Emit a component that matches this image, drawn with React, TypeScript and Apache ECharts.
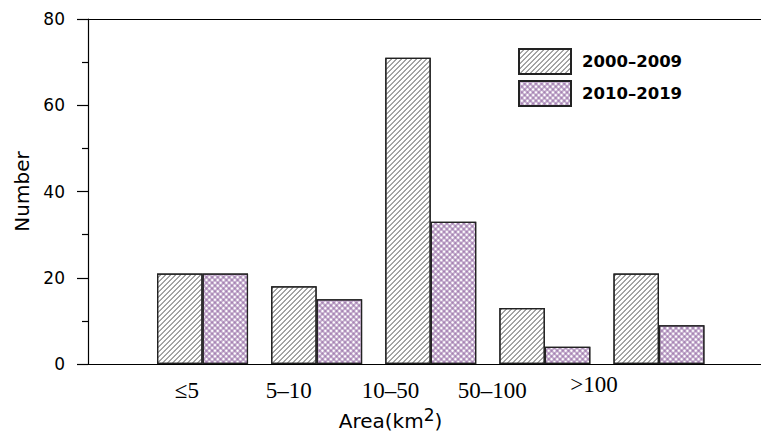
import React, { useEffect, useRef } from 'react';
import * as echarts from 'echarts';

const categories = ['≤5', '5–10', '10–50', '50–100', '>100'];
const series2000 = [21, 18, 71, 13, 21];
const series2010 = [21, 15, 33, 4, 9];
const seriesNames = ['2000–2009', '2010–2019'];
const yMin = 0;
const yMax = 80;
const yInterval = 20;

const SANS = 'DejaVu Sans';
const SERIF = 'Liberation Serif';

export default function App() {
  const ref = useRef<HTMLDivElement>(null);
  useEffect(() => {
    const chart = echarts.init(ref.current!, null, { renderer: 'svg' });
    const hatch = {
      color: '#444',
      symbol: 'path://M0,5L5,0L5,1L1,5Z M0,0L1,0L0,1Z',
      symbolSize: 1,
      symbolKeepAspect: false,
      dashArrayX: [5, 0],
      dashArrayY: [5, 0],
      rotation: 0,
    };
    const cross = {
      color: '#8a5c9c',
      symbol: 'path://M0,1.5H4V2.5H0Z M1.5,0H2.5V4H1.5Z',
      symbolSize: 1,
      dashArrayX: [4, 0],
      dashArrayY: [4, 0],
      rotation: Math.PI / 4,
    };
    const option: any = {
      animation: false,
      backgroundColor: '#fff',
      legend: {
        left: 518,
        top: 48,
        orient: 'vertical',
        itemWidth: 52,
        itemHeight: 25,
        itemGap: 5,
        padding: 0,
        icon: 'rect',
        data: seriesNames,
        textStyle: {
          fontFamily: SANS,
          fontWeight: 'bold',
          fontSize: 16.5,
          color: '#000',
          padding: [0, 0, 0, 6],
        },
      },
      grid: [
        { left: 145.5, right: 45, top: 19, bottom: 73 },
        { left: 88, right: 0, top: 19, bottom: 73 },
        { left: 136, right: 116, top: 19, bottom: 73 },
      ],
      xAxis: [
        {
          type: 'category',
          gridIndex: 0,
          data: categories,
          axisLine: { show: false },
          axisTick: { show: false },
          axisLabel: { show: false },
          splitLine: { show: false },
        },
        {
          type: 'value',
          gridIndex: 1,
          min: 0,
          max: 1,
          position: 'bottom',
          axisLine: { show: true, lineStyle: { color: '#000', width: 1.2 } },
          axisTick: { show: false },
          axisLabel: { show: false },
          splitLine: { show: false },
        },
        {
          type: 'value',
          gridIndex: 1,
          min: 0,
          max: 1,
          position: 'top',
          axisLine: { show: true, lineStyle: { color: '#000', width: 1.2 } },
          axisTick: { show: false },
          axisLabel: { show: false },
          splitLine: { show: false },
        },
        {
          type: 'category',
          gridIndex: 2,
          data: categories,
          axisLine: { show: false },
          axisTick: { show: false },
          splitLine: { show: false },
          axisLabel: {
            interval: 0,
            fontFamily: SERIF,
            fontSize: 23,
            color: '#000',
            margin: 15,
            formatter: (v: string) => (v === '>100' ? `{hi|${v}}` : v),
            rich: { hi: { fontFamily: SERIF, fontSize: 23, color: '#000', lineHeight: 11 } },
          },
          name: '{a|Area(km}{s|2}{a|)}',
          nameLocation: 'middle',
          nameGap: 30,
          nameTextStyle: {
            rich: {
              a: { fontFamily: SANS, fontSize: 20, color: '#000', lineHeight: 24, verticalAlign: 'bottom' },
              s: { fontFamily: SANS, fontSize: 17, color: '#000', lineHeight: 15, verticalAlign: 'top' },
            },
          },
        },
      ],
      yAxis: [
        {
          type: 'value',
          gridIndex: 0,
          min: yMin,
          max: yMax,
          interval: yInterval,
          show: false,
        },
        {
          type: 'value',
          gridIndex: 1,
          min: yMin,
          max: yMax,
          interval: yInterval,
          axisLine: { show: true, lineStyle: { color: '#000', width: 1.2 } },
          axisTick: { show: true, inside: false, length: 11, lineStyle: { color: '#000', width: 1.2 } },
          minorTick: { show: true, splitNumber: 2, length: 6, lineStyle: { color: '#000', width: 1.2 } },
          splitLine: { show: false },
          minorSplitLine: { show: false },
          axisLabel: { fontFamily: SANS, fontSize: 17, color: '#000', margin: 23 },
          name: 'Number',
          nameLocation: 'middle',
          nameGap: 53,
          nameTextStyle: { fontFamily: SANS, fontSize: 20, color: '#000' },
        },
        {
          type: 'value',
          gridIndex: 2,
          min: yMin,
          max: yMax,
          show: false,
        },
      ],
      series: [
        {
          name: seriesNames[0],
          type: 'bar',
          xAxisIndex: 0,
          yAxisIndex: 0,
          data: series2000,
          barWidth: 45.5,
          barGap: '0%',
          itemStyle: { color: '#fff', borderColor: '#222', borderWidth: 1.2, decal: hatch },
        },
        {
          name: seriesNames[1],
          type: 'bar',
          xAxisIndex: 0,
          yAxisIndex: 0,
          data: series2010,
          barWidth: 45.5,
          barGap: '0%',
          itemStyle: { color: '#fff', borderColor: '#222', borderWidth: 1.2, decal: cross },
        },
      ],
    };
    chart.setOption(option);
    return () => chart.dispose();
  }, []);
  return <div ref={ref} style={{ position: 'absolute', left: 0, top: 0, width: 761, height: 437 }} />;
}
